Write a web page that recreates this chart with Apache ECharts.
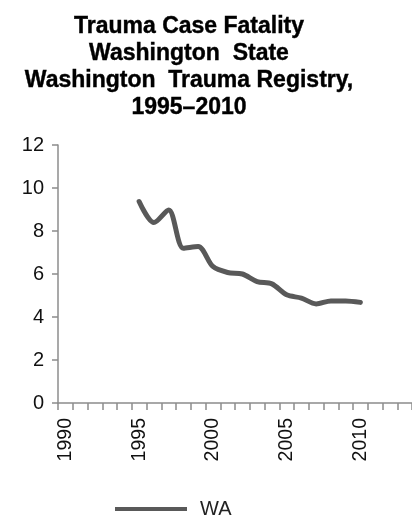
<!DOCTYPE html>
<html>
<head>
<meta charset="utf-8">
<script src="https://cdn.jsdelivr.net/npm/echarts@6/dist/echarts.min.js"></script>
<style>html,body{margin:0;padding:0;background:#fff}#c{width:412px;height:517px}</style>
</head>
<body>
<div id="c"></div>
<script>
var titleLines = ['Trauma Case Fatality', 'Washington  State', 'Washington  Trauma Registry,', '1995\u20132010'];
var years = ['1990','1991','1992','1993','1994','1995','1996','1997','1998','1999','2000','2001','2002','2003','2004','2005','2006','2007','2008','2009','2010','2011','2012','2013'];
var waValues = [null,null,null,null,null,9.37,8.39,8.98,7.2,7.28,6.35,6.07,6.0,5.65,5.54,5.03,4.88,4.61,4.75,4.75,4.68,null,null,null];
var yTicks = {min: 0, max: 12, interval: 2};
var seriesName = 'WA';

var chart = echarts.init(document.getElementById('c'));
chart.setOption({
  animation: false,
  backgroundColor: '#fff',
  title: {
    text: titleLines.join('\n'),
    left: 184, top: 8, textAlign: 'center',
    textStyle: {fontFamily: 'Liberation Sans', fontWeight: 'bold', fontSize: 23, lineHeight: 27, color: '#000',
      textBorderColor: '#000', textBorderWidth: 0.4}
  },
  legend: {
    data: [seriesName],
    left: 110, top: 494,
    itemWidth: 72, itemHeight: 14, itemGap: 10,
    icon: 'path://M0,0 L72,0 L72,4 L0,4 Z',
    textStyle: {fontFamily: 'Liberation Sans', fontSize: 20, color: '#222', padding: [0,0,0,8]}
  },
  grid: {left: 58, top: 145, width: 360, bottom: 114, containLabel: false},
  xAxis: {
    type: 'category', data: years, boundaryGap: true,
    axisLine: {lineStyle: {color: '#8c8c8c', width: 1.5}},
    axisTick: {show: true, interval: 0, length: 7, lineStyle: {color: '#8c8c8c', width: 1.5}},
    axisLabel: {interval: 4, rotate: 90, fontFamily: 'Liberation Sans', fontSize: 19.5, color: '#111', margin: 15}
  },
  yAxis: {
    type: 'value', min: yTicks.min, max: yTicks.max, interval: yTicks.interval,
    splitLine: {show: false},
    axisLine: {show: true, lineStyle: {color: '#8c8c8c', width: 1.5}},
    axisTick: {show: true, length: 6, lineStyle: {color: '#8c8c8c', width: 1.5}},
    axisLabel: {fontFamily: 'Liberation Sans', fontSize: 20, color: '#111', margin: 14}
  },
  series: [{
    name: seriesName, type: 'line', data: waValues, smooth: 0.3,
    showSymbol: false, symbol: 'none', connectNulls: false,
    lineStyle: {color: '#595959', width: 5, cap: 'round', join: 'round'},
    itemStyle: {color: '#595959'}
  }]
});
</script>
</body>
</html>
